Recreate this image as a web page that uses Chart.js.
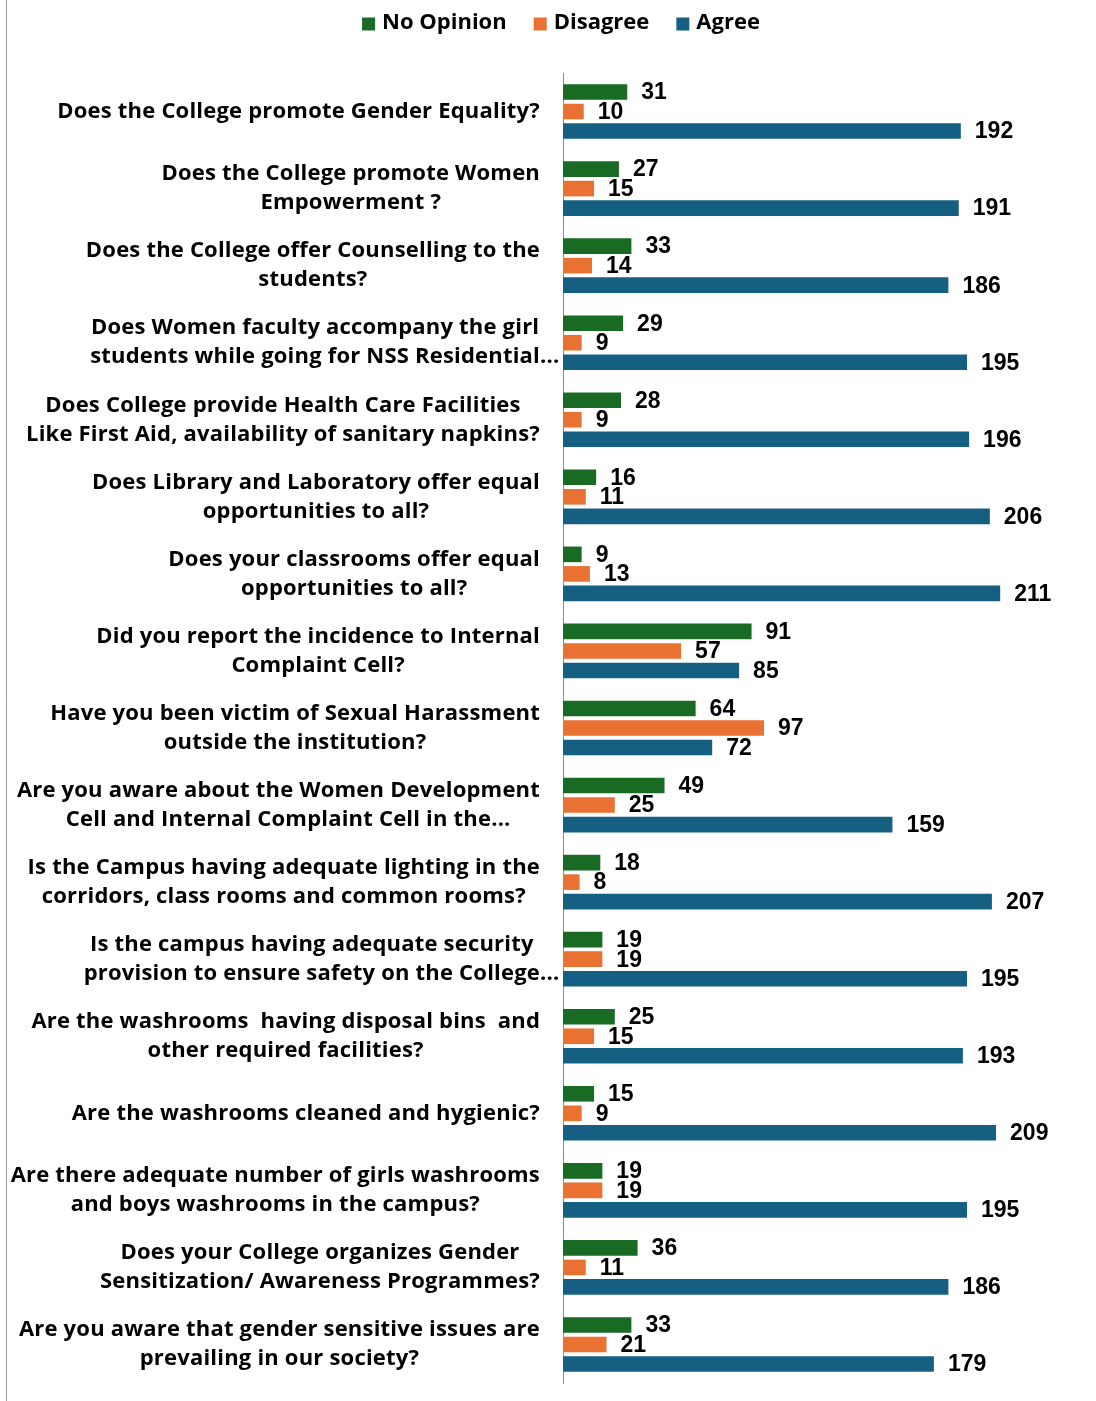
<!DOCTYPE html>
<html>
<head>
<meta charset="utf-8">
<script src="https://cdn.jsdelivr.net/npm/chart.js@4"></script>
<style>
  html, body { margin: 0; padding: 0; background: #fff; }
  #wrap { position: relative; width: 1096px; height: 1401px; }
</style>
</head>
<body>
<div id="wrap"><canvas id="chart"></canvas></div>
<script>
const questions = [
  ['Does the College promote Gender Equality?'],
  ['Does the College promote Women', 'Empowerment ?'],
  ['Does the College offer Counselling to the', 'students?'],
  ['Does Women faculty accompany the girl', 'students while going for NSS Residential...'],
  ['Does College provide Health Care Facilities', 'Like First Aid, availability of sanitary napkins?'],
  ['Does Library and Laboratory offer equal', 'opportunities to all?'],
  ['Does your classrooms offer equal', 'opportunities to all?'],
  ['Did you report the incidence to Internal', 'Complaint Cell?'],
  ['Have you been victim of Sexual Harassment', 'outside the institution?'],
  ['Are you aware about the Women Development', 'Cell and Internal Complaint Cell in the...'],
  ['Is the Campus having adequate lighting in the', 'corridors, class rooms and common rooms?'],
  ['Is the campus having adequate security', 'provision to ensure safety on the College...'],
  ['Are the washrooms  having disposal bins  and', 'other required facilities?'],
  ['Are the washrooms cleaned and hygienic?'],
  ['Are there adequate number of girls washrooms', 'and boys washrooms in the campus?'],
  ['Does your College organizes Gender', 'Sensitization/ Awareness Programmes?'],
  ['Are you aware that gender sensitive issues are', 'prevailing in our society?']
];

const noOpinion = [31, 27, 33, 29, 28, 16, 9, 91, 64, 49, 18, 19, 25, 15, 19, 36, 33];
const disagree  = [10, 15, 14, 9, 9, 11, 13, 57, 97, 25, 8, 19, 15, 9, 19, 11, 21];
const agree     = [192, 191, 186, 195, 196, 206, 211, 85, 72, 159, 207, 195, 193, 209, 195, 186, 179];

const TEXT_FONT = '"Open Sans", sans-serif';
const NUM_FONT = '"Liberation Sans", Arial, sans-serif';

// question labels: lines centred on each other, block right edge near the axis.
// a trailing "..." hangs past the centred part, like the exported picture
const questionLabels = {
  id: 'questionLabels',
  afterDraw(chart) {
    const ctx = chart.ctx;
    const y = chart.scales.y;
    ctx.save();
    ctx.font = 'bold 22px ' + TEXT_FONT;
    ctx.letterSpacing = '0.2px';
    ctx.fillStyle = '#000';
    ctx.textBaseline = 'middle';
    ctx.textAlign = 'left';
    const lh = 29;
    questions.forEach((lines, i) => {
      const core = lines.map(l => l.replace(/\.\.\.$/, ''));
      const w = Math.max(...core.map(l => ctx.measureText(l).width));
      const cx = chart.chartArea.left - 23 - w / 2;
      const cy = y.getPixelForValue(i);
      lines.forEach((l, k) => {
        const cw = ctx.measureText(core[k]).width;
        ctx.fillText(l, cx - cw / 2, cy + (k - (lines.length - 1) / 2) * lh);
      });
    });
    ctx.restore();
  }
};

// value labels at the end of each bar
const valueLabels = {
  id: 'valueLabels',
  afterDatasetsDraw(chart) {
    const ctx = chart.ctx;
    ctx.save();
    ctx.font = 'bold 23px ' + NUM_FONT;
    ctx.fillStyle = '#000';
    ctx.textBaseline = 'middle';
    ctx.textAlign = 'left';
    chart.data.datasets.forEach((ds, di) => {
      chart.getDatasetMeta(di).data.forEach((bar, i) => {
        ctx.fillText(String(ds.data[i]), bar.x + 14, bar.y + 1);
      });
    });
    ctx.restore();
  }
};

// legend drawn by hand so it can sit close to the top edge
const topLegend = {
  id: 'topLegend',
  afterDraw(chart) {
    const ctx = chart.ctx;
    ctx.save();
    ctx.font = 'bold 22px ' + TEXT_FONT;
    ctx.textBaseline = 'middle';
    ctx.textAlign = 'left';
    const box = 13, gapText = 7, gapItem = 27;
    const items = chart.data.datasets.map(ds => ({
      label: ds.label, color: ds.backgroundColor, w: ctx.measureText(ds.label).width
    }));
    const total = items.reduce((s, it) => s + box + gapText + it.w, 0) + gapItem * (items.length - 1);
    let x = chart.width / 2 + 13 - total / 2;
    const yc = 23;
    items.forEach(it => {
      ctx.fillStyle = it.color;
      ctx.fillRect(x, yc - box / 2 + 1, box, box);
      ctx.fillStyle = '#000';
      ctx.fillText(it.label, x + box + gapText, yc);
      x += box + gapText + it.w + gapItem;
    });
    ctx.restore();
  }
};

// thin frame line on the left like the exported picture
const frameLine = {
  id: 'frameLine',
  beforeDraw(chart) {
    const ctx = chart.ctx;
    ctx.save();
    ctx.strokeStyle = '#9a9a9a';
    ctx.lineWidth = 1;
    ctx.beginPath();
    ctx.moveTo(6.5, 0);
    ctx.lineTo(6.5, chart.height);
    ctx.stroke();
    ctx.restore();
  }
};

new Chart(document.getElementById('chart'), {
  type: 'bar',
  data: {
    labels: questions.map(q => q.join(' ')),
    datasets: [
      { label: 'No Opinion', data: noOpinion, backgroundColor: '#196B24' },
      { label: 'Disagree', data: disagree, backgroundColor: '#E97132' },
      { label: 'Agree', data: agree, backgroundColor: '#156082' }
    ]
  },
  options: {
    indexAxis: 'y',
    responsive: true,
    maintainAspectRatio: false,
    animation: false,
    categoryPercentage: 0.76,
    barPercentage: 0.8,
    layout: { padding: { top: 73, right: 15, bottom: 18, left: 0 } },
    scales: {
      x: {
        display: false,
        min: 0,
        max: 250
      },
      y: {
        grid: { display: false, drawTicks: false },
        border: { display: true, color: '#8c8c8c', width: 1 },
        ticks: { display: false },
        afterFit(scale) { scale.width = 563; }
      }
    },
    plugins: {
      legend: { display: false },
      tooltip: { enabled: false }
    }
  },
  plugins: [frameLine, questionLabels, valueLabels, topLegend]
});
</script>
</body>
</html>
